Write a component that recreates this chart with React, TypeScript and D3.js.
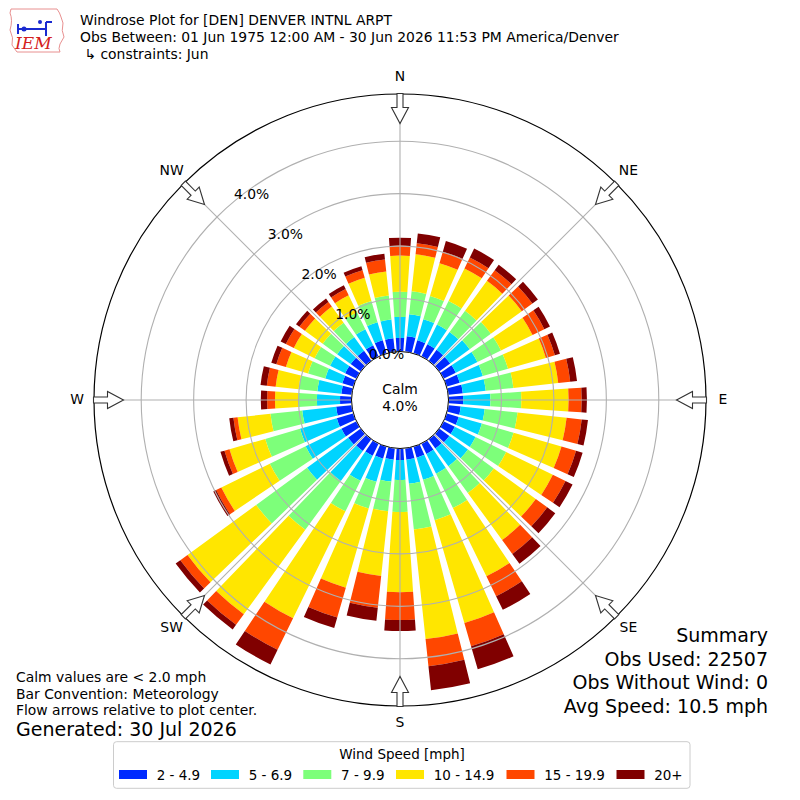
import * as d3 from 'd3';

// wind directions (deg, meteorological, clockwise from north)
const directions = [0, 10, 20, 30, 40, 50, 60, 70, 80, 90, 100, 110, 120, 130, 140, 150, 160, 170,
  180, 190, 200, 210, 220, 230, 240, 250, 260, 270, 280, 290, 300, 310, 320, 330, 340, 350];

const speedBins = ['2 - 4.9', '5 - 6.9', '7 - 9.9', '10 - 14.9', '15 - 19.9', '20+'];
const binColors = ['#002aff', '#00d4ff', '#7dff7a', '#ffe600', '#ff4700', '#800000'];

// frequency [%] per direction for each speed bin
const speed2to5 = [0.25, 0.29, 0.25, 0.25, 0.25, 0.25, 0.25, 0.25, 0.27, 0.27, 0.23, 0.23, 0.23, 0.23, 0.21, 0.21, 0.21, 0.21,
  0.21, 0.21, 0.23, 0.25, 0.27, 0.29, 0.31, 0.32, 0.29, 0.21, 0.19, 0.21, 0.23, 0.23, 0.23, 0.23, 0.25, 0.25];
const speed5to7 = [0.40, 0.42, 0.42, 0.42, 0.42, 0.46, 0.46, 0.46, 0.44, 0.52, 0.46, 0.46, 0.44, 0.44, 0.42, 0.42, 0.44, 0.46,
  0.38, 0.42, 0.46, 0.53, 0.71, 0.97, 0.76, 0.73, 0.65, 0.44, 0.46, 0.34, 0.32, 0.32, 0.32, 0.34, 0.36, 0.36];
const speed7to10 = [0.48, 0.44, 0.46, 0.50, 0.50, 0.50, 0.50, 0.50, 0.53, 0.59, 0.63, 0.63, 0.65, 0.61, 0.63, 0.73, 0.80, 0.88,
  0.61, 0.57, 0.53, 0.65, 1.15, 1.20, 0.76, 0.69, 0.61, 0.36, 0.36, 0.34, 0.33, 0.34, 0.34, 0.36, 0.42, 0.46];
const speed10to15 = [0.69, 0.71, 0.65, 0.69, 0.71, 0.73, 0.67, 0.75, 0.86, 0.90, 0.94, 0.95, 0.99, 0.99, 1.11, 1.45, 2.04, 2.10,
  1.53, 1.24, 1.57, 2.27, 1.99, 1.62, 1.03, 0.71, 0.63, 0.44, 0.44, 0.44, 0.44, 0.42, 0.38, 0.36, 0.46, 0.46];
const speed15to20 = [0.19, 0.21, 0.23, 0.23, 0.25, 0.25, 0.25, 0.18, 0.23, 0.25, 0.29, 0.29, 0.27, 0.27, 0.33, 0.42, 0.46, 0.52,
  0.53, 0.61, 0.59, 0.67, 0.25, 0.17, 0.11, 0.10, 0.08, 0.15, 0.17, 0.19, 0.17, 0.13, 0.11, 0.13, 0.15, 0.23];
const speed20plus = [0.15, 0.19, 0.21, 0.19, 0.13, 0.13, 0.12, 0.10, 0.13, 0.10, 0.12, 0.13, 0.15, 0.19, 0.23, 0.29, 0.46, 0.46,
  0.21, 0.25, 0.21, 0.31, 0.11, 0.11, 0.06, 0.08, 0.08, 0.12, 0.12, 0.10, 0.11, 0.08, 0.08, 0.08, 0.08, 0.11];

const radialTicks = [0, 1, 2, 3, 4];
const compassLabels = ['N', 'NE', 'E', 'SE', 'S', 'SW', 'W', 'NW'];
const compassAngles = [0, 45, 90, 135, 180, 225, 270, 315];
const calmPercent = 4.0;

const titleLines = [
  'Windrose Plot for [DEN] DENVER INTNL ARPT',
  'Obs Between: 01 Jun 1975 12:00 AM - 30 Jun 2026 11:53 PM America/Denver',
  ' \u21b3 constraints: Jun',
];
const summaryLines = ['Summary', 'Obs Used: 22507', 'Obs Without Wind: 0', 'Avg Speed: 10.5 mph'];
const noteLines = ['Calm values are < 2.0 mph', 'Bar Convention: Meteorology', 'Flow arrows relative to plot center.'];
const generatedText = 'Generated: 30 Jul 2026';

const FONT = 'DejaVu Sans, sans-serif';
const rad = (deg: number) => (deg * Math.PI) / 180;

export default function App() {
  const cx = 400;
  const cy = 400;
  const r = d3.scaleLinear().domain([0, 4.9]).range([49, 306]);
  const halfWidth = 3.9; // degrees

  const rows = directions.map((dir, i) => ({
    dir,
    b0: speed2to5[i], b1: speed5to7[i], b2: speed7to10[i],
    b3: speed10to15[i], b4: speed15to20[i], b5: speed20plus[i],
  }));
  const keys = ['b0', 'b1', 'b2', 'b3', 'b4', 'b5'];
  const layers = d3.stack<any>().keys(keys)(rows);

  const arc = d3.arc<any>();

  // hollow arrow pointing to the centre, drawn for north then rotated
  const arrowPath = (() => {
    const tail = r(4.9) + 0.5, neck = tail - 14, tip = tail - 30;
    const p = d3.path();
    p.moveTo(-3, -tail);
    p.lineTo(-3, -neck);
    p.lineTo(-8.5, -neck);
    p.lineTo(0, -tip);
    p.lineTo(8.5, -neck);
    p.lineTo(3, -neck);
    p.lineTo(3, -tail);
    p.closePath();
    return p.toString();
  })();

  const legendX = [119, 211, 303.3, 396, 506.5, 616.5];

  return (
    <svg width={800} height={800} style={{ position: 'absolute', left: 0, top: 0, background: '#fff' }}
      fontFamily={FONT}>
      <rect width={800} height={800} fill="#fff" />

      {/* logo */}
      <g>
        <path d="M11,9 L57,9 Q60,13 61,17 L63,23 Q61,31 64,37 L60,44 Q58,49 60,52 L17,52 Q14,48 12,45 Q14,38 10,30 Q13,20 10,13 Z"
          fill="none" stroke="#e89090" strokeWidth={1} />
        <path d="M18,29 L46,29 M46,22 L46,36 M46,22 L52,22 M18,24 L18,34" stroke="#1a2ad0" strokeWidth={2} fill="none" />
        <circle cx={24} cy={29} r={2.5} fill="#1a2ad0" />
        <circle cx={40} cy={22} r={2} fill="#1a2ad0" />
        <text x={15} y={49} fontFamily="DejaVu Serif, serif" fontStyle="italic" fontSize={17} fill="#d42020">IEM</text>
      </g>

      {/* title */}
      {titleLines.map((t, i) => (
        <text key={t} x={80} y={25 + i * 17} fontSize={13.9} fill="#000" style={{ whiteSpace: 'pre' }}>{t}</text>
      ))}

      <g transform={`translate(${cx},${cy})`}>
        {/* bars */}
        {layers.map((layer, li) => (
          <g key={layer.key}>
            {layer.map((seg: any) => (
              <path
                key={seg.data.dir}
                d={arc({
                  innerRadius: r(seg[0]),
                  outerRadius: r(seg[1]),
                  startAngle: rad(seg.data.dir - halfWidth),
                  endAngle: rad(seg.data.dir + halfWidth),
                }) as string}
                fill={binColors[li]}
              />
            ))}
          </g>
        ))}

        {/* grid */}
        {radialTicks.filter(t => t > 0).map(t => (
          <circle key={t} r={r(t)} fill="none" stroke="#b0b0b0" strokeWidth={1.1} />
        ))}
        {compassAngles.map(a => (
          <line key={a}
            x1={r(0) * Math.sin(rad(a))} y1={-r(0) * Math.cos(rad(a))}
            x2={r(4.9) * Math.sin(rad(a))} y2={-r(4.9) * Math.cos(rad(a))}
            stroke="#b0b0b0" strokeWidth={1.1} />
        ))}
        <circle r={r(4.9)} fill="none" stroke="#000" strokeWidth={1.2} />

        {/* calm circle */}
        <circle r={r(0) - 0.5} fill="#fff" stroke="#000" strokeWidth={1} />
        <text x={0} y={-6} textAnchor="middle" fontSize={13.9}>Calm</text>
        <text x={0} y={11} textAnchor="middle" fontSize={13.9}>{`${calmPercent.toFixed(1)}%`}</text>

        {/* arrows */}
        {compassAngles.map(a => (
          <path key={a} d={arrowPath} transform={`rotate(${a})`} fill="#fff" stroke="#333" strokeWidth={1.1} />
        ))}

        {/* compass labels */}
        {compassLabels.map((lab, i) => (
          <text key={lab}
            x={323 * Math.sin(rad(compassAngles[i]))}
            y={-323 * Math.cos(rad(compassAngles[i])) + 3.5}
            textAnchor="middle" fontSize={13.9}>{lab}</text>
        ))}

        {/* radial tick labels */}
        {radialTicks.map(t => (
          <text key={t}
            x={r(t) * Math.sin(rad(320)) + 18}
            y={-r(t) * Math.cos(rad(320)) - 3}
            textAnchor="middle" fontSize={13.9}>{`${t.toFixed(1)}%`}</text>
        ))}
      </g>

      {/* notes */}
      {noteLines.map((t, i) => (
        <text key={t} x={16} y={682 + i * 16.5} fontSize={13.9}>{t}</text>
      ))}
      <text x={16} y={736} fontSize={19}>{generatedText}</text>

      {/* summary */}
      {summaryLines.map((t, i) => (
        <text key={t} x={768} y={642 + i * 23.5} textAnchor="end" fontSize={19}>{t}</text>
      ))}

      {/* legend */}
      <rect x={113.5} y={741.7} width={576.5} height={46.6} rx={3} fill="#fff" stroke="#cccccc" strokeWidth={1} />
      <text x={402} y={758.5} textAnchor="middle" fontSize={13.5}>Wind Speed [mph]</text>
      {speedBins.map((lab, i) => (
        <g key={lab}>
          <rect x={legendX[i]} y={770} width={28} height={9} fill={binColors[i]} />
          <text x={legendX[i] + 37.7} y={779.5} fontSize={13.5}>{lab}</text>
        </g>
      ))}
    </svg>
  );
}
